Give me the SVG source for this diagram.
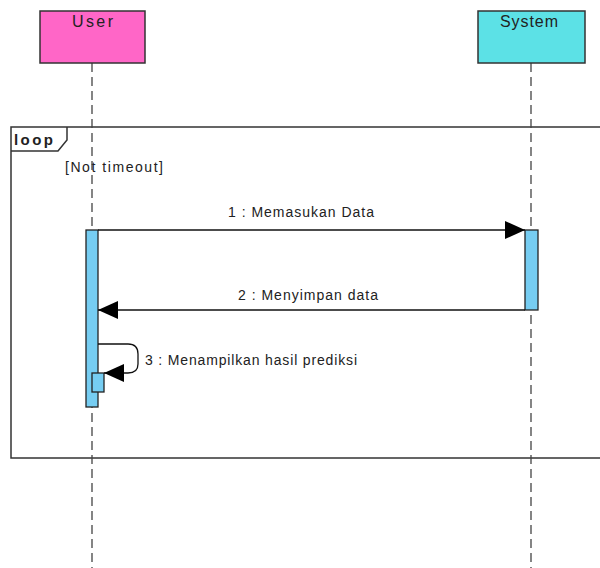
<svg xmlns="http://www.w3.org/2000/svg" width="600" height="568" viewBox="0 0 600 568">
<style>
text{font-family:"Liberation Sans",Arial,sans-serif;font-size:14px;fill:#222}
.title{font-size:16px}
.life{stroke:#444;stroke-width:1.3;stroke-dasharray:9 5;fill:none}
.head{stroke:#333;stroke-width:1.5}
.act{fill:#76cdf2;stroke:#222;stroke-width:1.3}
.msg{stroke:#111;stroke-width:1.3;fill:none}
.frame{fill:none;stroke:#333;stroke-width:1.5}
</style>
<defs>
<marker id="arr" markerWidth="20" markerHeight="18" refX="20" refY="9" orient="auto" markerUnits="userSpaceOnUse">
<path d="M0,0 L20,9 L0,18 Z" fill="#000"/>
</marker>
</defs>
<g id="frame-loop">
<rect class="frame" x="11" y="127" width="600" height="331"/>
<path class="frame" d="M11,151 L58,151 L67,140 L67,127"/>
<text x="14" y="145" style="font-weight:bold;font-size:15px" textLength="39">loop</text>
<text x="65" y="172" textLength="98">[Not timeout]</text>
</g>
<g id="lifeline-user">
<line class="life" x1="92" y1="63" x2="92" y2="568"/>
</g>
<g id="lifeline-system">
<line class="life" x1="531" y1="63" x2="531" y2="568"/>
</g>
<g id="node-user">
<rect class="head" x="40" y="11" width="105" height="52" fill="#ff66c7"/>
<text class="title" x="92.5" y="27" text-anchor="middle" textLength="41">User</text>
</g>
<g id="node-system">
<rect class="head" x="478" y="11" width="107" height="52" fill="#5ce1e6"/>
<text class="title" x="529" y="27" text-anchor="middle" textLength="58">System</text>
</g>
<g id="activation-user">
<rect class="act" x="86" y="230" width="12" height="177"/>
<rect class="act" x="92" y="373" width="12" height="19"/>
</g>
<g id="activation-system">
<rect class="act" x="525" y="230" width="13" height="80"/>
</g>
<g id="connectors">
<line class="msg" x1="98" y1="230" x2="525" y2="230" marker-end="url(#arr)"/>
<text x="228" y="217" textLength="146">1 : Memasukan Data</text>
<line class="msg" x1="525" y1="310" x2="98" y2="310" marker-end="url(#arr)"/>
<text x="238" y="300" textLength="140">2 : Menyimpan data</text>
<path class="msg" d="M98,344 L128,344 Q138,344 138,354 L138,364 Q138,373 128,373 L104,373" marker-end="url(#arr)"/>
<text x="145" y="365" textLength="212">3 : Menampilkan hasil prediksi</text>
</g>
</svg>
